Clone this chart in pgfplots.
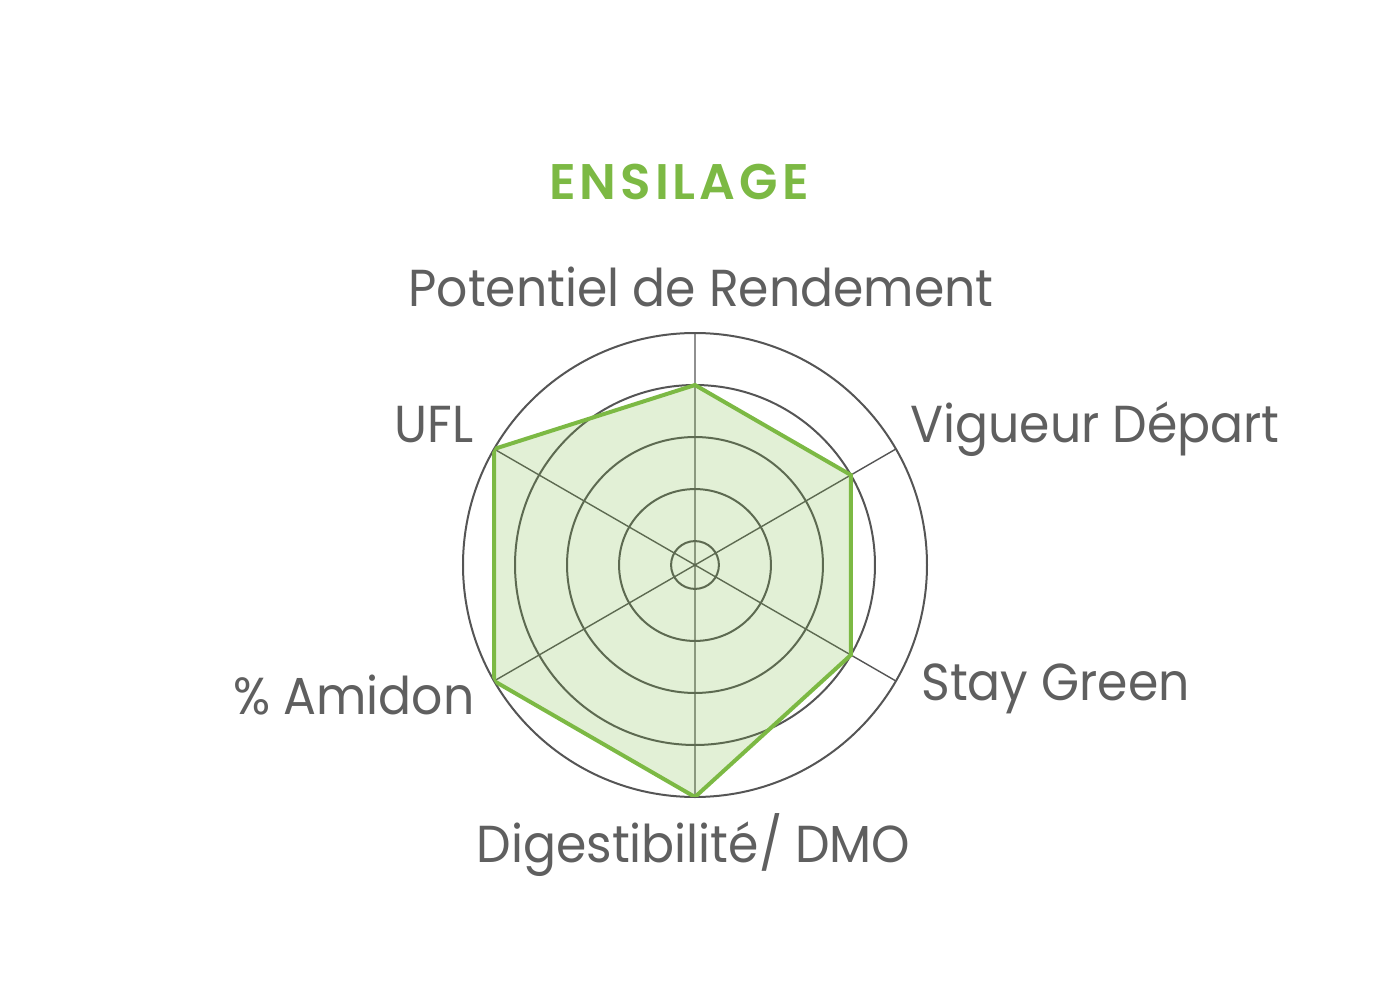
\documentclass[border=0pt]{standalone}
\usepackage{pgfplots}
\pgfplotsset{compat=1.18}
\usepgfplotslibrary{polar}
\usepackage{fontspec}
\setmainfont{Poppins}
\newfontfamily\labfont[FakeStretch=0.94]{Poppins}
\newfontfamily\titfont[LetterSpace=8]{Poppins SemiBold}

\definecolor{gridgray}{HTML}{555555}
\definecolor{labgray}{HTML}{5F5F5F}
\definecolor{linegreen}{HTML}{7CB944}

% Score of the variety on each criterion (angle in degrees, score 1-5)
\pgfplotstableread{
angle score
90  4
30  4
330 4
270 5
210 5
150 5
}\ensilage

\begin{document}
\begin{tikzpicture}
\useasboundingbox (-347.5pt,-217.5pt) rectangle (352.5pt,282.5pt);
\begin{polaraxis}[
    at={(0,0)}, anchor=center,
    scale only axis,
    width=232pt, height=232pt,
    % the centre of the chart sits a little below score 1
    y coord trafo/.code={\pgfmathparse{#1-0.54}},
    y coord inv trafo/.code={\pgfmathparse{#1+0.54}},
    ymin=0.54, ymax=5,
    xtick={30,90,...,330},
    ytick={1,2,3,4},
    xticklabels={}, yticklabels={},
    grid=major,
    major tick length=0pt,
    x axis line style={gridgray, line width=1pt},
    y axis line style={draw=none},
    x grid style={gridgray, line width=0.7pt},
    y grid style={gridgray, line width=1pt},
]
\addplot[draw=linegreen, fill=linegreen, fill opacity=0.22, line width=2pt, line join=miter]
    table[x=angle, y=score] {\ensilage} -- cycle;
\end{polaraxis}
\begin{scope}[every node/.style={inner sep=0pt, text=labgray, font=\labfont\fontsize{26}{30}\selectfont}]
\node[anchor=base, text=linegreen, font=\titfont\fontsize{25}{28}\selectfont] at (-8pt,182.5pt) {ENSILAGE};
\node[anchor=base] at (3pt,129pt) {Potentiel de Rendement};
\node[anchor=base west] at (107.5pt,61pt) {Vigueur Départ};
\node[anchor=base west] at (113pt,-67.5pt) {Stay Green};
\node[anchor=base east] at (-110.5pt,61pt) {UFL};
\node[anchor=base east] at (-110pt,-74.5pt) {\% Amidon};
\node[anchor=base] at (-0.75pt,-148.5pt) {Digestibilité/ DMO};
\end{scope}
\end{tikzpicture}
\end{document}
